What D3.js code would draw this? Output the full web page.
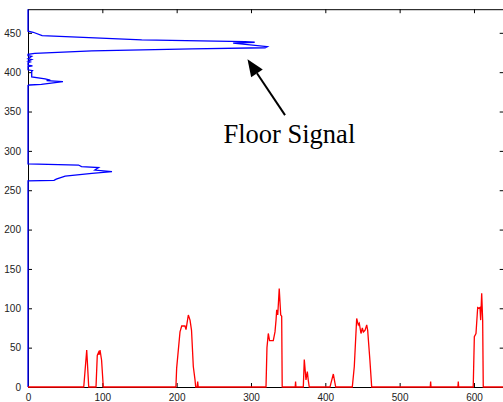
<!DOCTYPE html>
<html>
<head>
<meta charset="utf-8">
<script src="https://cdn.jsdelivr.net/npm/d3@7"></script>
<style>
  body { margin: 0; background: #fff; }
  .tick text { font-family: Arial, "Liberation Sans", sans-serif; font-size: 10px; fill: #222; }
</style>
</head>
<body>
<div id="my_dataviz"></div>
<script>
// floor signal (blue): horizontal sum for each row
const floorRows = [0, 262, 262.5, 264, 265.5, 268, 271.5, 273.6, 275.6, 278.7, 280, 282, 283.4,
  383, 383.7, 384.6, 388, 389.2, 390, 391.4, 394, 396, 401, 402, 403, 407, 408, 409, 412, 413, 414,
  416, 417, 420, 421, 422.7, 424, 427, 429.5, 431, 432.5, 437, 438, 438.8, 441, 446.4, 450.7, 452, 480]
const floorSum = [0, 0, 35, 38, 42, 50, 86, 113, 90, 95, 72, 68, 0,
  0, 2, 18, 47, 25, 30, 23, 5, 5, 5, 6, 0, 0, 6, 0, 0, 3, 0,
  5, 0, 5, 0, 0, 9, 86, 221, 319, 322, 276, 305, 292, 153, 19, 7, 0, 0]

// column signal (red): vertical sum for each column
const colPos = [0, 75, 79, 81.7, 91.5, 93.2, 95, 95.8, 96.9, 99, 101.3,
  199, 200, 204.5, 206.8, 211.2, 212.6, 215.7, 218, 220, 222.4, 224.7, 225.6, 227.5, 228.3, 229,
  320.2, 321.5, 323.3, 325, 330, 332.3, 333.7, 334.6, 336, 338, 340, 341.3, 342,
  359.5, 360, 360.5, 370.4, 371.7, 374, 375.8, 377, 378.4,
  406.3, 407.6, 410.8, 413, 414,
  436.3, 439, 442.2, 444.4, 445.7, 448, 449.8, 451.2, 453.4, 455.7, 457, 460, 462.4,
  541.2, 541.7, 542.2, 578.4, 578.9, 579.4,
  599, 600.5, 602.7, 605, 606.8, 608.1, 609, 610.4, 611.7, 612.5, 640]
const colSum = [0, 0, 47, 0, 0, 40, 44, 41, 47, 34, 0,
  0, 24, 70, 77.5, 77.5, 73, 91.5, 85, 72, 26, 9, 0, 0, 7, 0,
  0, 50, 68, 59, 59, 70, 85, 98, 91.5, 125, 91.5, 90, 0,
  0, 7, 0, 0, 35, 9, 19.5, 9, 0,
  0, 5, 16.5, 5, 0,
  0, 26, 87, 79, 81, 68, 75, 70, 72, 79, 72, 34, 0,
  0, 7, 0, 0, 7, 0,
  0, 64, 68, 101, 100, 101, 85, 119, 85, 0, 0]

const xTicks = [0, 100, 200, 300, 400, 500, 600]
const yTicks = [0, 50, 100, 150, 200, 250, 300, 350, 400, 450]

// annotation: label and arrow, in data units
const noteText = "Floor Signal"
const noteAt = [263, 310]
const arrowFrom = [345.8, 345.4]
const arrowTo = [295.3, 416.5]

const W = 503, H = 402
const margin = { top: 9.2, bottom: 15, left: 28, right: -0.7 }

const svg = d3.select("#my_dataviz")
  .append("svg")
    .attr("width", W)
    .attr("height", H)

const x = d3.scaleLinear().domain([0, 640]).range([margin.left, W - margin.right])
const y = d3.scaleLinear().domain([0, 480]).range([H - margin.bottom, margin.top])

// axes, matlab style: ticks inside on all four sides
svg.append("g")
  .attr("transform", "translate(0," + y(0) + ")")
  .call(d3.axisBottom(x).tickValues(xTicks).tickSizeInner(-4).tickSizeOuter(0).tickPadding(7))
svg.append("g")
  .attr("transform", "translate(0," + y(480) + ")")
  .call(d3.axisTop(x).tickValues(xTicks).tickSizeInner(-4).tickSizeOuter(0).tickFormat(""))
svg.append("g")
  .attr("transform", "translate(" + x(0) + ",0)")
  .call(d3.axisLeft(y).tickValues(yTicks).tickSizeInner(-4).tickSizeOuter(0).tickPadding(7))
svg.append("g")
  .attr("transform", "translate(" + x(640) + ",0)")
  .call(d3.axisRight(y).tickValues(yTicks).tickSizeInner(-4).tickSizeOuter(0).tickFormat(""))

svg.selectAll(".domain").attr("stroke", "#000")
svg.selectAll(".tick line").attr("stroke", "#000")

// blue line
svg.append("path")
  .datum(d3.range(floorRows.length))
  .attr("fill", "none")
  .attr("stroke", "#0000ff")
  .attr("stroke-width", 1.3)
  .attr("d", d3.line()
    .x(function(i) { return x(floorSum[i]) })
    .y(function(i) { return y(floorRows[i]) }))

// red line
svg.append("path")
  .datum(d3.range(colPos.length))
  .attr("fill", "none")
  .attr("stroke", "#ff0000")
  .attr("stroke-width", 1.3)
  .attr("d", d3.line()
    .x(function(i) { return x(colPos[i]) })
    .y(function(i) { return y(colSum[i]) }))

// arrow
const x1 = x(arrowFrom[0]), y1 = y(arrowFrom[1])
const x2 = x(arrowTo[0]), y2 = y(arrowTo[1])
const ang = Math.atan2(y2 - y1, x2 - x1)
const headLen = 17, headW = 7
const bx = x2 - headLen * Math.cos(ang), by = y2 - headLen * Math.sin(ang)

svg.append("line")
  .attr("x1", x1).attr("y1", y1)
  .attr("x2", bx).attr("y2", by)
  .attr("stroke", "#000")
  .attr("stroke-width", 2)

svg.append("path")
  .attr("d", "M" + x2 + "," + y2 +
    "L" + (bx + headW * Math.sin(ang)) + "," + (by - headW * Math.cos(ang)) +
    "L" + (bx - headW * Math.sin(ang)) + "," + (by + headW * Math.cos(ang)) + "Z")
  .attr("fill", "#000")

svg.append("text")
  .attr("x", x(noteAt[0]))
  .attr("y", y(noteAt[1]))
  .attr("font-family", "'Liberation Serif', 'Times New Roman', serif")
  .attr("font-size", 26.5)
  .attr("fill", "#000")
  .text(noteText)
</script>
</body>
</html>
